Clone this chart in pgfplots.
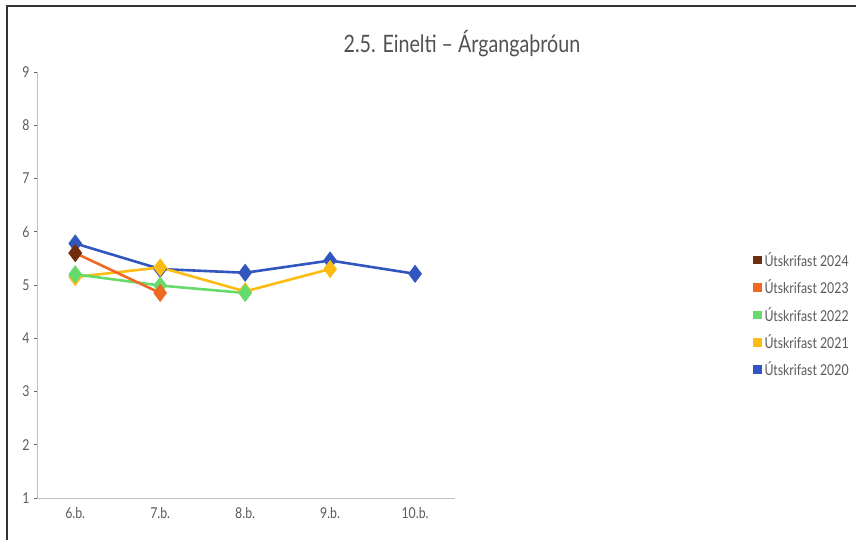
\documentclass[border=0pt]{standalone}
\usepackage{fontspec}
\setmainfont{Lato}[FakeStretch=0.82]
\usepackage{pgfplots}
\pgfplotsset{compat=1.18}
\definecolor{c24}{RGB}{110,46,14}
\definecolor{c23}{RGB}{238,106,36}
\definecolor{c22}{RGB}{102,218,106}
\definecolor{c21}{RGB}{253,188,18}
\definecolor{c20}{RGB}{50,86,191}
\definecolor{txt}{RGB}{90,90,90}
\begin{document}
\begin{tikzpicture}[x=1pt,y=1pt]
\path[use as bounding box] (0,0) rectangle (856,540);
\draw[line width=1.5pt,color=black!80] (7,0) -- (7,534) -- (856,534);
\node[font=\fontsize{24}{28}\selectfont,text=txt!90!black] at (462,496) {2.5. Einelti – Árgangaþróun};
\begin{axis}[
  at={(37pt,42pt)}, anchor=south west,
  scale only axis, width=418pt, height=426pt,
  xmin=-0.45, xmax=4.47, ymin=1, ymax=9,
  xtick={0,1,2,3,4},
  xticklabels={6.b.,7.b.,8.b.,9.b.,10.b.},
  ytick={1,2,3,4,5,6,7,8,9},
  axis x line*=bottom, axis y line*=left,
  axis line style={draw=black!25, line width=0.8pt},
  x axis line style={-}, y axis line style={-},
  xtick style={draw=none},
  ytick style={draw=black!60, line width=0.8pt},
  tick align=outside, major tick length=3pt,
  ticklabel style={font=\fontsize{15}{17}\selectfont, text=txt},
  /pgf/number format/assume math mode=true,
  xticklabel style={yshift=-3pt},
  yticklabel style={xshift=-1pt},
  clip=false,
  reverse legend,
  legend style={at={(1.705,0.43)}, anchor=west, draw=none, fill=none,
    font=\fontsize{15}{17}\selectfont, text=txt, row sep=8pt,
    /tikz/every odd column/.append style={column sep=1pt}},
  legend cell align=left,
  legend image code/.code={\fill[#1] (0pt,-3pt) rectangle (6pt,3pt);},
  every axis plot/.append style={line width=2.6pt, mark=diamond*, mark size=7pt,
    mark options={solid, xscale=0.85, line width=0.5pt}},
]
\addplot[color=c20, mark options={fill=c20}] coordinates {(0,5.78) (1,5.30) (2,5.23) (3,5.46) (4,5.21)};
\addlegendentry{Útskrifast 2020}
\addplot[color=c21, mark options={fill=c21}] coordinates {(0,5.15) (1,5.33) (2,4.88) (3,5.30)};
\addlegendentry{Útskrifast 2021}
\addplot[color=c22, mark options={fill=c22}] coordinates {(0,5.20) (1,4.99) (2,4.85)};
\addlegendentry{Útskrifast 2022}
\addplot[color=c23, mark options={fill=c23}] coordinates {(0,5.60) (1,4.85)};
\addlegendentry{Útskrifast 2023}
\addplot[color=c24, mark options={fill=c24}] coordinates {(0,5.60)};
\addlegendentry{Útskrifast 2024}
\end{axis}
\end{tikzpicture}
\end{document}
